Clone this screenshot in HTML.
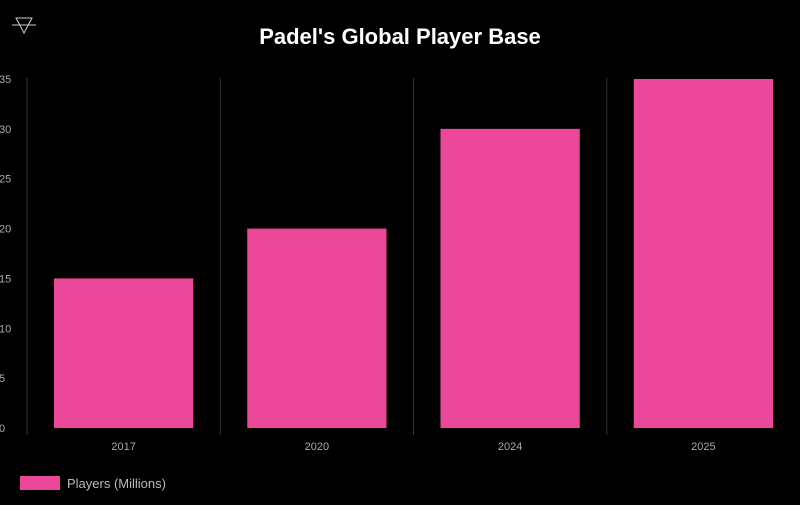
<!DOCTYPE html>
<html><head><meta charset="utf-8"><style>
body{margin:0;background:#000;width:800px;height:500px;overflow:hidden;font-family:"Liberation Sans",sans-serif}
</style></head><body>
<svg width="800" height="500">
<rect width="800" height="500" fill="#000"/>
<g stroke="#ccc" stroke-width="1" fill="none">
<path d="M16 18 L32 18 L24 33 Z"/><line x1="12" y1="25" x2="36" y2="25"/>
</g>
<text x="400" y="44" fill="#fff" font-size="22" font-weight="bold" text-anchor="middle">Padel's Global Player Base</text>
<g id="grid"></g><g id="yt"></g><g id="bars"></g><g id="xt"></g>
<rect x="20" y="476" width="40" height="14" fill="#ec4899"/>
<text x="67" y="488" fill="#bbb" font-size="13">Players (Millions)</text>
</svg>
<script>
const categories=["2017","2020","2024","2025"];
const values=[15,20,30,35];
const yTicks=[0,5,10,15,20,25,30,35];
const x0=27,band=193.25,pad=27;
const y=v=>428-v*(349/35);
const ns="http://www.w3.org/2000/svg";
function mk(t,a,p){const e=document.createElementNS(ns,t);for(const k in a)e.setAttribute(k,a[k]);p.appendChild(e);return e;}
const grid=document.getElementById('grid'),yt=document.getElementById('yt'),bars=document.getElementById('bars'),xt=document.getElementById('xt');
categories.forEach((c,i)=>{
 const gl=mk('line',{x1:x0+i*band,x2:x0+i*band,y1:78,y2:435,stroke:'#333','stroke-width':1},grid);
 
 
 const b=mk('rect',{x:x0+i*band+pad,width:band-2*pad,y:y(values[i]),height:428-y(values[i]),fill:'#ec4899'},bars);
 
 
 const t=mk('text',{x:x0+i*band+band/2,y:450,fill:'#aaa','font-size':11,'text-anchor':'middle'},xt);
 t.textContent=c;
 
 
});
yTicks.forEach(v=>{
 const t=mk('text',{x:-1,y:y(v)+4,fill:'#aaa','font-size':11},yt);
 t.textContent=v;
 
 
});
</script>
</body></html>
